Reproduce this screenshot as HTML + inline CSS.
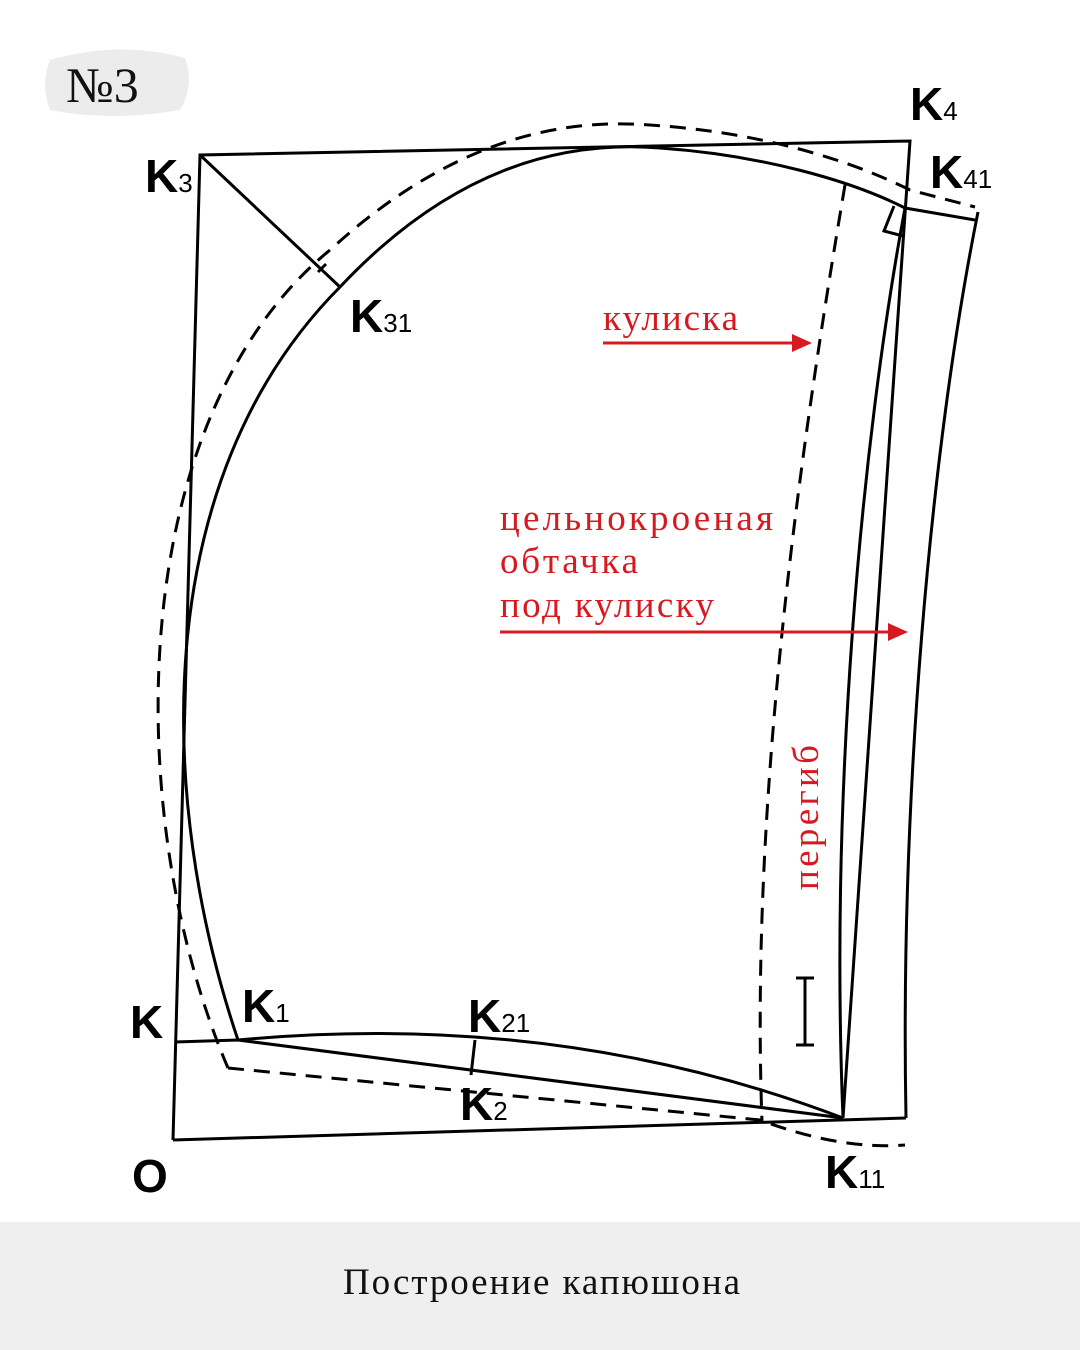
<!DOCTYPE html>
<html><head><meta charset="utf-8"><style>
body{margin:0;width:1080px;height:1350px;background:#fff;overflow:hidden}
svg{display:block}
.lab{font-family:"Liberation Sans",sans-serif;font-weight:bold;font-size:46px;fill:#000}
.sub{font-size:26px;font-weight:normal}
.red{font-family:"Liberation Serif",serif;font-size:37px;fill:#d71920}
</style></head><body>
<svg width="1080" height="1350" viewBox="0 0 1080 1350">
<rect x="0" y="1222" width="1080" height="128" fill="#efefef"/>
<text x="343" y="1294" textLength="397" font-family="Liberation Serif,serif" font-size="37" fill="#111">Построение капюшона</text>
<path d="M50 60 Q120 40 185 58 Q195 85 180 110 Q110 122 50 110 Q40 85 50 60Z" fill="#ececec"/>
<text x="66" y="102" font-family="Liberation Serif,serif" font-size="50" fill="#111">№3</text>
<g fill="none" stroke="#000" stroke-width="3">
<path d="M173 1140 L200 155 L910 141 L843 1118"/>
<path d="M173 1140 L906 1118"/>
<path d="M175 1042 L238 1040 L843 1118"/>
<path d="M238 1040 Q560 1010 843 1118"/>
<path d="M475 1040 L471 1075"/>
<path d="M200 155 L340 287"/>
<path d="M318 272 L326 264"/>
<path d="M238 1040 C157 800 148 480 340 287 C450 170 560 140 660 148 C760 155 850 180 905 208"/>
<path d="M843 1118 C830 800 860 450 905 208 L975 220"/>
<path d="M978 212 C930 450 900 800 906 1118"/>
<path d="M894 206 L884 231 L903 236"/>
<path d="M805 978 V1045 M796 978 H814 M796 1045 H814"/>
</g>
<g fill="none" stroke="#000" stroke-width="3" stroke-dasharray="16 10">
<path d="M228 1068 C122 820 122 420 330 250 C450 140 560 118 650 125 C760 132 850 160 910 190 L975 207"/>
<path d="M228 1068 L760 1120 Q840 1150 905 1145"/>
<path d="M845 185 C800 450 750 800 762 1122"/>
</g>
<g stroke="#d71920" stroke-width="3" fill="#d71920">
<line x1="603" y1="343" x2="795" y2="343"/>
<polygon points="812,343 792,334 792,352" stroke="none"/>
<line x1="500" y1="632" x2="890" y2="632"/>
<polygon points="908,632 888,623 888,641" stroke="none"/>
</g>
<text class="red" x="603" y="330" textLength="135">кулиска</text>
<text class="red" x="500" y="530" textLength="273">цельнокроеная</text>
<text class="red" x="500" y="573" textLength="138">обтачка</text>
<text class="red" x="500" y="617" textLength="214">под кулиску</text>
<text class="red" transform="translate(818,890) rotate(-90)" textLength="145">перегиб</text>
<text class="lab" x="145" y="192">K<tspan class="sub">3</tspan></text>
<text class="lab" x="910" y="120">K<tspan class="sub">4</tspan></text>
<text class="lab" x="930" y="188">K<tspan class="sub">41</tspan></text>
<text class="lab" x="350" y="332">K<tspan class="sub">31</tspan></text>
<text class="lab" x="130" y="1038">K</text>
<text class="lab" x="242" y="1022">K<tspan class="sub">1</tspan></text>
<text class="lab" x="468" y="1032">K<tspan class="sub">21</tspan></text>
<text class="lab" x="460" y="1120">K<tspan class="sub">2</tspan></text>
<text class="lab" x="132" y="1192">O</text>
<text class="lab" x="825" y="1188">K<tspan class="sub">11</tspan></text>
</svg>
</body></html>
